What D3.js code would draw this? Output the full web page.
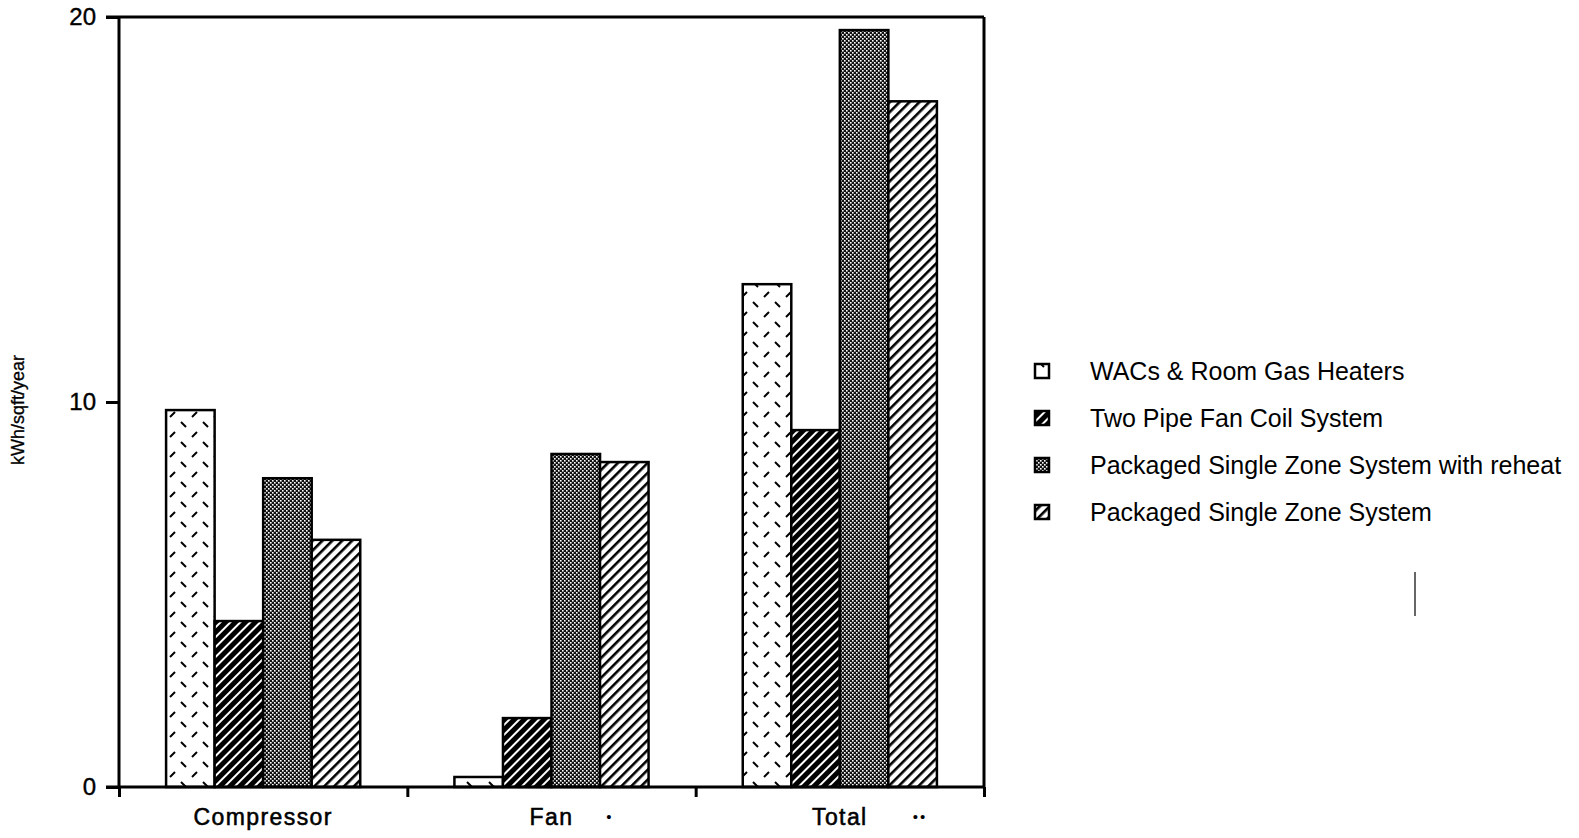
<!DOCTYPE html>
<html><head><meta charset="utf-8">
<script src="https://cdn.jsdelivr.net/npm/d3@7"></script>
<style>
html,body{margin:0;padding:0;background:#fff;}
svg{display:block;font-family:"Liberation Sans",Arial,sans-serif;}
</style></head>
<body>
<svg id="chart" width="1579" height="838"></svg>
<script>
const categories = ["Compressor", "Fan", "Total"];
const footnotes = ["", "•", "••"];
const seriesNames = ["WACs & Room Gas Heaters", "Two Pipe Fan Coil System", "Packaged Single Zone System with reheat", "Packaged Single Zone System"];
const wacs      = [9.79, 0.26, 13.06];
const twoPipe   = [4.31, 1.79, 9.27];
const pszReheat = [8.02, 8.65, 19.66];
const psz       = [6.42, 8.44, 17.81];
const yTicks = [0, 10, 20];
const yLabel = "kWh/sqft/year";

const svg = d3.select("#chart");
const L = 119, R = 984, T = 17, B = 787;

const defs = svg.append("defs");
// WACs: dashed diamond lattice
const p0 = defs.append("pattern").attr("id","pat0").attr("patternUnits","userSpaceOnUse")
  .attr("width",22).attr("height",20).attr("x",L+5).attr("y",0);
p0.append("rect").attr("width",22).attr("height",20).attr("fill","#fff");
p0.append("line").attr("x1",13).attr("y1",2).attr("x2",18).attr("y2",7).attr("stroke","#000").attr("stroke-width",2);
p0.append("line").attr("x1",2).attr("y1",17).attr("x2",7).attr("y2",12).attr("stroke","#000").attr("stroke-width",2);
// Two pipe: black with white diagonals
const p1 = defs.append("pattern").attr("id","pat1").attr("patternUnits","userSpaceOnUse")
  .attr("width",7).attr("height",7).attr("patternTransform","rotate(45)");
p1.append("rect").attr("width",7).attr("height",7).attr("fill","#000");
p1.append("rect").attr("x",0).attr("y",0).attr("width",2).attr("height",7).attr("fill","#fff");
// Reheat: fine checker
const p2 = defs.append("pattern").attr("id","pat2").attr("patternUnits","userSpaceOnUse")
  .attr("width",4).attr("height",4);
p2.append("rect").attr("width",4).attr("height",4).attr("fill","#111");
p2.append("rect").attr("x",0).attr("y",0).attr("width",1.6).attr("height",1.6).attr("fill","#fff");
p2.append("rect").attr("x",2).attr("y",2).attr("width",1.6).attr("height",1.6).attr("fill","#fff");
// PSZ: white with black diagonals
const p3 = defs.append("pattern").attr("id","pat3").attr("patternUnits","userSpaceOnUse")
  .attr("width",7).attr("height",7).attr("patternTransform","rotate(45)");
p3.append("rect").attr("width",7).attr("height",7).attr("fill","#fff");
p3.append("rect").attr("x",0).attr("y",0).attr("width",2.6).attr("height",7).attr("fill","#000");

const fills = ["url(#pat0)","url(#pat1)","url(#pat2)","url(#pat3)"];
const seriesValues = [wacs, twoPipe, pszReheat, psz];

const x = d3.scaleBand().domain(categories).range([L, R]).paddingInner(0).paddingOuter(0);
const xs = d3.scaleBand().domain(d3.range(seriesNames.length)).range([0, x.bandwidth()]).paddingOuter(0.97).paddingInner(0);
const y = d3.scaleLinear().domain([0, 20]).range([B, T]);

// bars
const data = [];
categories.forEach((c, i) => seriesValues.forEach((s, j) => data.push({c, j, v: s[i]})));
svg.append("g").selectAll("rect").data(data).join("rect")
  .attr("x", d => x(d.c) + xs(d.j))
  .attr("y", d => y(d.v))
  .attr("width", xs.bandwidth())
  .attr("height", d => y(0) - y(d.v))
  .attr("fill", d => fills[d.j])
  .attr("stroke", "#000").attr("stroke-width", 2.5);

// frame top/right
svg.append("line").attr("x1", L - 13).attr("x2", R).attr("y1", T).attr("y2", T).attr("stroke","#000").attr("stroke-width",3);
svg.append("line").attr("x1", R).attr("x2", R).attr("y1", T).attr("y2", B).attr("stroke","#000").attr("stroke-width",3);

// y axis
const ya = svg.append("g").attr("transform", `translate(${L},0)`)
  .call(d3.axisLeft(y).tickValues(yTicks).tickSize(13).tickPadding(10).tickFormat(d3.format("d")));
ya.select(".domain").attr("stroke-width",3).attr("d", `M0,${T}V${B}`);
ya.selectAll(".tick line").attr("stroke-width",3);
ya.selectAll(".tick text").attr("font-size",24).attr("font-family","Liberation Sans, Arial, sans-serif")
  .attr("fill","#000").attr("stroke","#000").attr("stroke-width",0.4);

// x axis: ticks at band boundaries
const xb = d3.scaleLinear().domain([0, categories.length]).range([L, R]);
const xa = svg.append("g").attr("transform", `translate(0,${B})`)
  .call(d3.axisBottom(xb).tickValues(d3.range(categories.length + 1)).tickSize(10).tickFormat(""));
xa.select(".domain").attr("stroke-width",3).attr("d", `M${L - 13},0H${R}`);
xa.selectAll(".tick line").attr("stroke-width",3);

// category labels
const cl = svg.append("g");
categories.forEach((c, i) => {
  cl.append("text").attr("x", x(c) + x.bandwidth()/2).attr("y", 825)
    .attr("text-anchor","middle").attr("font-size",23).attr("letter-spacing",1.4)
    .attr("stroke","#000").attr("stroke-width",0.55).text(c);
});
// footnote markers
const fnX = [0, 610, 920];
footnotes.forEach((f, i) => {
  if (!f) return;
  cl.append("text").attr("x", fnX[i]).attr("y", 822).attr("text-anchor","middle")
    .attr("font-size",15).attr("letter-spacing",2).text(f);
});

// y label
svg.append("text").attr("transform","translate(24,410) rotate(-90)")
  .attr("text-anchor","middle").attr("font-size",18).attr("stroke","#000").attr("stroke-width",0.3).text(yLabel);

// legend
const lg = svg.append("g");
const legY = d3.scalePoint().domain(d3.range(seriesNames.length)).range([371, 512]);
seriesNames.forEach((n, j) => {
  lg.append("rect").attr("x",1035).attr("y",legY(j) - 7).attr("width",14).attr("height",14)
    .attr("fill",fills[j]).attr("stroke","#000").attr("stroke-width",2.5);
  lg.append("text").attr("x",1090).attr("y",legY(j) + 9).attr("font-size",25).text(n);
});

// stray vertical mark from the original
svg.append("line").attr("x1",1415).attr("x2",1415).attr("y1",572).attr("y2",616).attr("stroke","#000").attr("stroke-width",1.2);
</script>
</body></html>
